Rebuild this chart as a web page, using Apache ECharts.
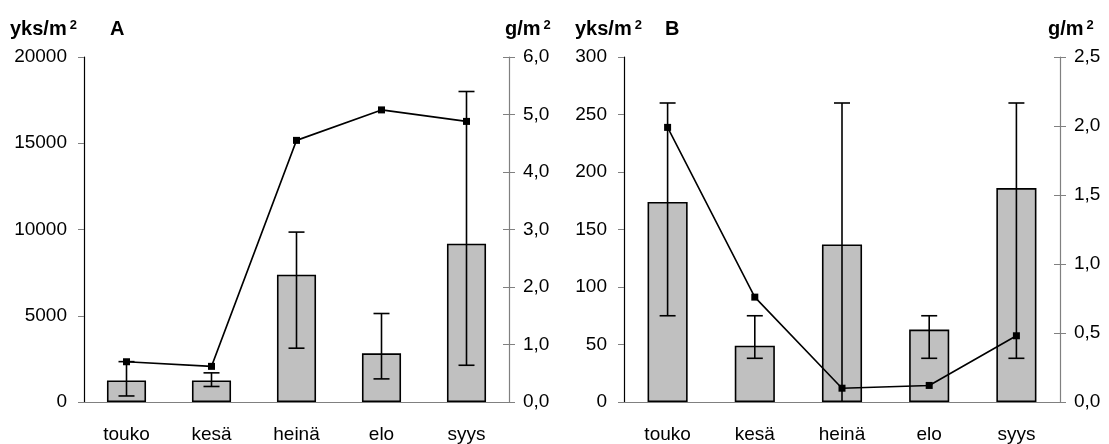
<!DOCTYPE html>
<html>
<head>
<meta charset="utf-8">
<script src="https://cdn.jsdelivr.net/npm/echarts@6/dist/echarts.min.js"></script>
<style>
    html, body { margin: 0; padding: 0; background: #fff; }
    #chart { width: 1109px; height: 444px; }
</style>
</head>
<body>
<div id="chart"></div>
<script>
// kuukaudet
const months = ['touko', 'kesä', 'heinä', 'elo', 'syys']

// A: yksilöt (pylväät + hajonta) ja biomassa (viiva)
const aCount = [1250, 1250, 7380, 2820, 9180]
const aLow = [350, 900, 3120, 1340, 2130]
const aHigh = [2340, 1690, 9850, 5130, 18000]
const aMass = [0.70, 0.62, 4.55, 5.08, 4.88]

// B
const bCount = [174, 49, 137, 63, 186]
const bLow = [75, 38, 0, 38, 38]
const bHigh = [260, 75, 260, 75, 260]
const bMass = [1.99, 0.76, 0.10, 0.12, 0.48]

const font = 'Liberation Sans, Arial, sans-serif'
const fs = 19

function errorBar(params, api) {
    const x = api.value(0)
    const lo = api.value(1)
    const hi = api.value(2)
    const top = api.coord([x, hi])
    const bot = api.coord([x, lo])
    const half = 8
    const style = {stroke: '#000', lineWidth: 1.6}
    const children = [
        {type: 'line', shape: {x1: top[0], y1: top[1], x2: bot[0], y2: bot[1]}, style: style},
        {type: 'line', shape: {x1: top[0] - half, y1: top[1], x2: top[0] + half, y2: top[1]}, style: style}
    ]
    if (lo > 0) {
        children.push({type: 'line', shape: {x1: bot[0] - half, y1: bot[1], x2: bot[0] + half, y2: bot[1]}, style: style})
    }
    return {type: 'group', children: children}
}

const comma = v => v.toFixed(1).replace('.', ',')

function leftAxis(grid, max, interval) {
    return {
        type: 'value', gridIndex: grid, position: 'left', min: 0, max: max, interval: interval,
        axisLine: {show: true, lineStyle: {color: '#000', width: 1.2}},
        axisTick: {show: true, length: 6, lineStyle: {color: '#808080'}},
        axisLabel: {margin: 17, color: '#000', fontSize: fs, fontFamily: font, formatter: v => String(v)},
        splitLine: {show: false}
    }
}

function rightAxis(grid, max, interval, inside) {
    return {
        type: 'value', gridIndex: grid, position: 'right', min: 0, max: max, interval: interval,
        axisLine: {show: !inside, lineStyle: {color: '#808080', width: 1.2}},
        axisTick: {show: true, inside: inside, length: 6, lineStyle: {color: '#808080'}},
        axisLabel: {show: !inside, margin: 14, color: '#000', fontSize: fs, fontFamily: font, formatter: comma},
        splitLine: {show: false}
    }
}

function catAxis(grid) {
    return {
        type: 'category', gridIndex: grid, data: months,
        axisLine: {lineStyle: {color: '#808080', width: 1.2}},
        axisTick: {show: false},
        axisLabel: {margin: 23, color: '#000', fontSize: fs, fontFamily: font}
    }
}

// yksikkö yläindeksillä
function titleText(text, left, sup) {
    return {
        text: sup ? text + '{s|2}' : text, left: left, top: 19, padding: 0,
        textStyle: {
            fontSize: 20, fontWeight: 'bold', color: '#000', fontFamily: font,
            rich: {s: {fontSize: 13, fontWeight: 'bold', fontFamily: font, verticalAlign: 'top', padding: [0, 0, 8, 3]}}
        }
    }
}

const barStyle = {color: '#c0c0c0', borderColor: '#000', borderWidth: 1.6}

const option = {
    animation: false,
    title: [
        titleText('yks/m', 10, true),
        titleText('A', 110),
        titleText('g/m', 505, true),
        titleText('yks/m', 575, true),
        titleText('B', 665),
        titleText('g/m', 1048, true)
    ],
    grid: [
        {left: 84, right: 600, top: 57, bottom: 39},
        {left: 624, right: 49, top: 57, bottom: 39}
    ],
    xAxis: [catAxis(0), catAxis(1)],
    yAxis: [
        leftAxis(0, 20000, 5000),
        rightAxis(0, 6, 1, false),
        rightAxis(0, 6, 1, true),
        leftAxis(1, 300, 50),
        rightAxis(1, 2.5, 0.5, false),
        rightAxis(1, 2.5, 0.5, true)
    ],
    series: [
        {
            type: 'bar', xAxisIndex: 0, yAxisIndex: 0, barWidth: '46%',
            itemStyle: barStyle, data: aCount
        },
        {
            type: 'custom', xAxisIndex: 0, yAxisIndex: 0, renderItem: errorBar,
            data: months.map((m, i) => [i, aLow[i], aHigh[i]]), z: 3
        },
        {
            type: 'line', xAxisIndex: 0, yAxisIndex: 1, symbol: 'rect', symbolSize: 7,
            lineStyle: {color: '#000', width: 1.6}, itemStyle: {color: '#000'},
            data: aMass, z: 4
        },
        {
            type: 'bar', xAxisIndex: 1, yAxisIndex: 3, barWidth: '46%',
            itemStyle: barStyle, data: bCount
        },
        {
            type: 'custom', xAxisIndex: 1, yAxisIndex: 3, renderItem: errorBar,
            data: months.map((m, i) => [i, bLow[i], bHigh[i]]), z: 3
        },
        {
            type: 'line', xAxisIndex: 1, yAxisIndex: 4, symbol: 'rect', symbolSize: 7,
            lineStyle: {color: '#000', width: 1.6}, itemStyle: {color: '#000'},
            data: bMass, z: 4
        }
    ]
}

const chart = echarts.init(document.getElementById('chart'))
chart.setOption(option)
</script>
</body>
</html>
